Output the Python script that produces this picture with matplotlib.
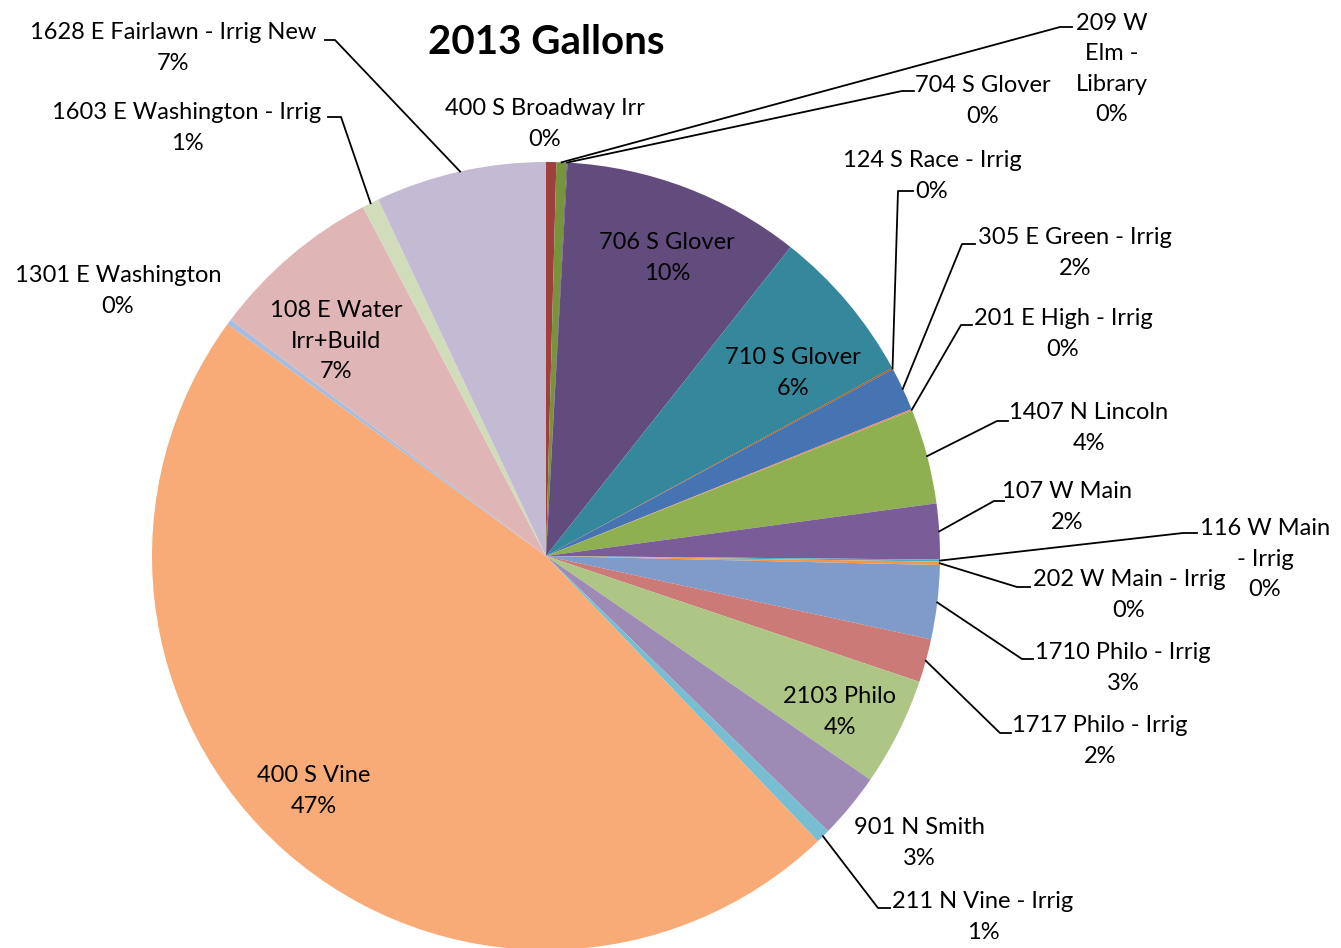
import matplotlib.pyplot as plt
import numpy as np

# sites in pie order (clockwise from 12 o'clock)
sites = ['400 S Broadway Irr', '209 W Elm - Library', '704 S Glover', '706 S Glover',
         '710 S Glover', '124 S Race - Irrig', '305 E Green - Irrig', '201 E High - Irrig',
         '1407 N Lincoln', '107 W Main', '116 W Main - Irrig', '202 W Main - Irrig',
         '1710 Philo - Irrig', '1717 Philo - Irrig', '2103 Philo', '901 N Smith',
         '211 N Vine - Irrig', '400 S Vine', '1301 E Washington', '108 E Water Irr+Build',
         '1603 E Washington - Irrig', '1628 E Fairlawn - Irrig New']
# share of 2013 gallons, %
share = [0.42, 0.42, 0.03, 9.79, 6.42, 0.06, 1.78, 0.06, 3.89, 2.28, 0.08, 0.14,
         3.03, 1.78, 4.44, 2.69, 0.58, 47.14, 0.22, 7.08, 0.69, 7.00]
# how the label text is broken in the chart
label_names = ['400 S Broadway Irr', '209 W\nElm -\nLibrary', '704 S Glover', '706 S Glover',
               '710 S Glover', '124 S Race - Irrig', '305 E Green - Irrig', '201 E High - Irrig',
               '1407 N Lincoln', '107 W Main', '116 W Main\n- Irrig', '202 W Main - Irrig',
               '1710 Philo - Irrig', '1717 Philo - Irrig', '2103 Philo', '901 N Smith',
               '211 N Vine - Irrig', '400 S Vine', '1301 E Washington', '108 E Water\nIrr+Build',
               '1603 E Washington - Irrig', '1628 E Fairlawn - Irrig New']
colors = ['#A0403C', '#77933C', '#4E3E66', '#624C7D', '#35879C', '#B65708', '#4673B1',
          '#E8846B', '#8FB050', '#795C98', '#4BACC6', '#F79646', '#7F9BC9', '#CB7A78',
          '#ADC686', '#9D8BB6', '#78BED2', '#F8AB77', '#A8BDDD', '#DFB6B5', '#D1DDBA',
          '#C3BAD3']

# label layout in pixels (centre of text) and leader elbows
label_pos = [(545, 124), (1112, 69), (983, 101), (667, 258), (793, 373), (932, 176),
             (1075, 253), (1063, 334), (1089, 428), (1067, 507), (1265, 559), (1129, 595),
             (1123, 668), (1100, 741), (840, 712), (919, 843), (983, 917), (314, 791),
             (118, 291), (336, 341), (187, 128), (173, 48)]
leaders = {1: [(1060, 27), (1072, 27)], 2: [(902, 91), (914, 91)],
           5: [(898, 191), (913, 191)], 6: [(962, 244), (975, 244)],
           7: [(961, 325), (972, 325)], 8: [(997, 421), (1008, 421)],
           9: [(994, 501), (1004, 501)], 10: [(1183, 533), (1197, 533)],
           11: [(1017, 587), (1030, 587)], 12: [(1022, 659), (1033, 659)],
           13: [(1000, 733), (1011, 733)], 16: [(878, 908), (890, 908)],
           20: [(341, 117), (328, 117)], 21: [(335, 40), (325, 40)]}

plt.rcParams['font.family'] = ['Lato', 'DejaVu Sans']

W, H = 1341, 948
fig = plt.figure(figsize=(W / 100, H / 100), dpi=100)
ax = fig.add_axes([0, 0, 1, 1])

cx, cy, r = 546, 556, 394
ax.pie(share, colors=colors, startangle=-90, counterclock=True,
       center=(cx, cy), radius=r, wedgeprops=dict(linewidth=0))
ax.set_xlim(0, W)
ax.set_ylim(H, 0)
ax.set_aspect('auto')
ax.axis('off')

total = sum(share)
cum = np.cumsum([0] + share)
for i, name in enumerate(label_names):
    pct = share[i] / total * 100
    tx, ty = label_pos[i]
    ax.text(tx, ty, f'{name}\n{pct:.0f}%', ha='center', va='center',
            fontsize=17, linespacing=1.56, color='black')
    if i in leaders:
        a = np.radians(360 * (cum[i] + cum[i + 1]) / 2 / total)
        px, py = cx + r * np.sin(a), cy - r * np.cos(a)
        pts = [(px, py)] + leaders[i]
        ax.plot([p[0] for p in pts], [p[1] for p in pts], color='black', lw=1.3)

ax.text(546, 42, '2013 Gallons', ha='center', va='center', fontsize=29, fontweight='bold')

fig.savefig('out.png', dpi=100)
